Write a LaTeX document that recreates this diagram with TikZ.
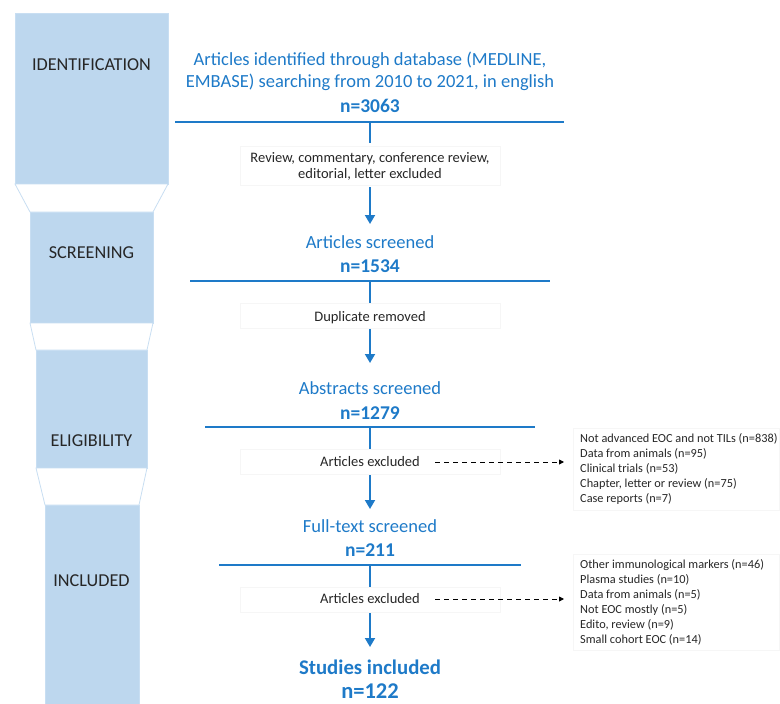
\documentclass[tikz,border=0pt]{standalone}
\usepackage{fontspec}
\setmainfont{Carlito}
\usetikzlibrary{arrows.meta}
\definecolor{stagebg}{RGB}{189,215,238}
\definecolor{stageln}{RGB}{200,222,242}
\definecolor{flowblue}{RGB}{30,122,200}
\definecolor{faint}{RGB}{246,246,246}
\tikzset{
  stagebox/.style={fill=stagebg, draw=stageln, line width=0.6pt},
  funnel/.style={fill=white, draw=stageln, line width=0.8pt},
  stagelabel/.style={font=\fontsize{18.2}{21}\selectfont, text=black!85, anchor=base, inner sep=0pt},
  heading/.style={font=\fontsize{18.5}{22}\selectfont, text=flowblue, align=center, anchor=base, inner sep=0pt},
  count/.style={font=\fontsize{19.5}{22}\selectfont\bfseries, text=flowblue, anchor=base, inner sep=0pt},
  bigcount/.style={font=\fontsize{22.5}{26}\selectfont\bfseries, text=flowblue, anchor=base, inner sep=0pt},
  stepnote/.style={font=\fontsize{14.5}{16}\selectfont, text=black!85, align=center, anchor=base, inner sep=0pt},
  listtext/.style={font=\fontsize{12.3}{15}\selectfont, text=black!85, align=left, anchor=base west, inner sep=0pt},
  rule/.style={draw=flowblue, line width=1.6pt},
  flowarrow/.style={draw=flowblue, line width=1.8pt, -{Triangle[length=9pt,width=10pt]}},
  dasharrow/.style={draw=black, line width=0.9pt, dash pattern=on 5pt off 4pt, -{Triangle[length=5pt,width=5pt]}},
  notebox/.style={draw=faint, line width=0.5pt}
}
\begin{document}
\begin{tikzpicture}[x=1pt,y=-1pt]
\useasboundingbox (0,0) rectangle (780,704);
% left stage column
\path[stagebox] (15,13) rectangle (168,184);
\path[funnel] (15,184) -- (168,184) -- (153,212) -- (30,212) -- cycle;
\path[stagebox] (30,212) rectangle (153,323);
\path[funnel] (30,323) -- (153,323) -- (147,350) -- (36,350) -- cycle;
\path[stagebox] (36,350) rectangle (147,468);
\path[funnel] (36,468) -- (147,468) -- (139,505) -- (45,505) -- cycle;
\path[stagebox] (45,505) rectangle (139,705);
\node[stagelabel] (lid) at (91.5,70) {IDENTIFICATION};
\node[stagelabel] (lsc) at (91.5,258) {SCREENING};
\node[stagelabel] (lel) at (91.5,446) {ELIGIBILITY};
\node[stagelabel] (lin) at (91.5,586) {INCLUDED};

% faint boxes behind notes
\path[notebox] (240,146) rectangle (500,185);
\path[notebox] (240,303) rectangle (500,328);
\path[notebox] (240,449) rectangle (500,474);
\path[notebox] (240,587) rectangle (500,612);
\path[notebox] (573,428) rectangle (779,510);
\path[notebox] (573,554) rectangle (779,650);

% flow
\node[heading] (h1) at (370,87) {Articles identified through database (MEDLINE,\\EMBASE) searching from 2010 to 2021, in english};
\node[count] (n1) at (370,112) {n=3063};
\coordinate (r1l) at (175,122); \coordinate (r1r) at (564,122); \coordinate (r1c) at (370,122);
\draw[rule] (r1l) -- (r1r);
\node[stepnote] (s1) at (370,178) {Review, commentary, conference review,\\editorial, letter excluded};
\coordinate (s1t) at (370,143);
\draw[rule] (r1c) -- (s1t);

\node[heading] (h2) at (370,248) {Articles screened};
\node[count] (n2) at (370,272) {n=1534};
\coordinate (a1s) at (370,187); \coordinate (a1e) at (370,224);
\draw[flowarrow] (a1s) -- (a1e);
\coordinate (r2l) at (190,281); \coordinate (r2r) at (550,281); \coordinate (r2c) at (370,281);
\draw[rule] (r2l) -- (r2r);
\node[stepnote] (s2) at (370,321) {Duplicate removed};
\coordinate (s2t) at (370,303);
\draw[rule] (r2c) -- (s2t);

\node[heading] (h3) at (370,394) {Abstracts screened};
\node[count] (n3) at (370,419) {n=1279};
\coordinate (a2s) at (370,329); \coordinate (a2e) at (370,363);
\draw[flowarrow] (a2s) -- (a2e);
\coordinate (r3l) at (205,427); \coordinate (r3r) at (535,427); \coordinate (r3c) at (370,427);
\draw[rule] (r3l) -- (r3r);
\node[stepnote] (s3) at (370,466) {Articles excluded};
\coordinate (s3t) at (370,449);
\draw[rule] (r3c) -- (s3t);
\node[listtext] (l1) at (580,502) {Not advanced EOC and not TILs (n=838)\\Data from animals (n=95)\\Clinical trials (n=53)\\Chapter, letter or review (n=75)\\Case reports (n=7)};
\coordinate (d1a) at (435,462); \coordinate (d1b) at (564,462);
\draw[dasharrow] (d1a) -- (d1b);

\node[heading] (h4) at (370,532) {Full-text screened};
\node[count] (n4) at (370,556) {n=211};
\coordinate (a3s) at (370,475); \coordinate (a3e) at (370,509);
\draw[flowarrow] (a3s) -- (a3e);
\coordinate (r4l) at (219,565); \coordinate (r4r) at (521,565); \coordinate (r4c) at (370,565);
\draw[rule] (r4l) -- (r4r);
\node[stepnote] (s4) at (370,603) {Articles excluded};
\coordinate (s4t) at (370,587);
\draw[rule] (r4c) -- (s4t);
\node[listtext] (l2) at (580,643) {Other immunological markers (n=46)\\Plasma studies (n=10)\\Data from animals (n=5)\\Not EOC mostly (n=5)\\Edito, review (n=9)\\Small cohort EOC (n=14)};
\coordinate (d2a) at (435,599); \coordinate (d2b) at (564,599);
\draw[dasharrow] (d2a) -- (d2b);

\node[heading, font=\fontsize{20.8}{24}\selectfont\bfseries] (h5) at (370,674) {Studies included};
\node[bigcount] (n5) at (370,698) {n=122};
\coordinate (a4s) at (370,613); \coordinate (a4e) at (370,647);
\draw[flowarrow] (a4s) -- (a4e);
\end{tikzpicture}
\end{document}
